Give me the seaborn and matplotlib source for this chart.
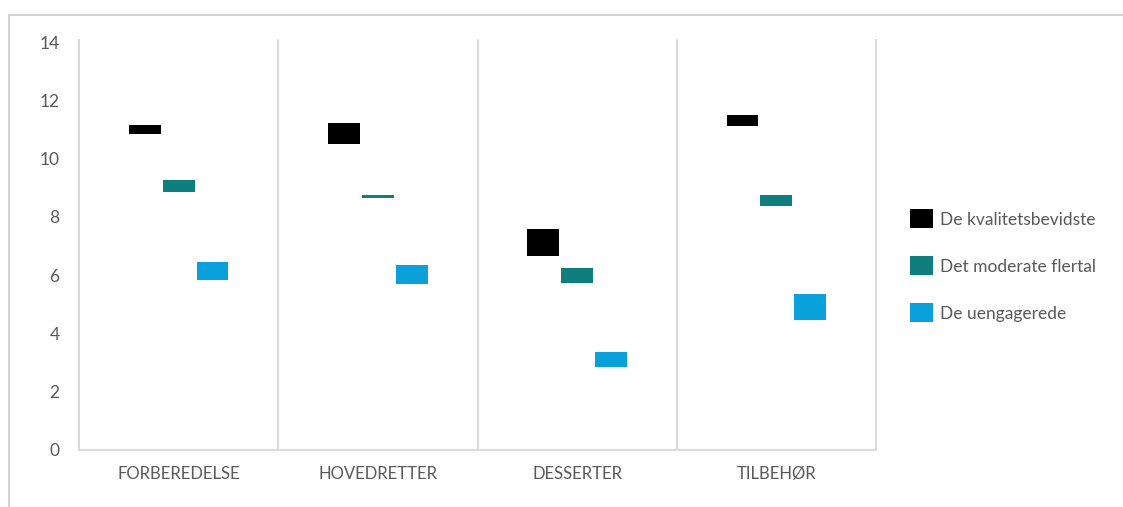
import matplotlib
matplotlib.use("Agg")
import matplotlib.pyplot as plt
from matplotlib.lines import Line2D
from matplotlib.patches import Patch
import pandas as pd
import seaborn as sns

# Categories and consumer segments
categories = ["FORBEREDELSE", "HOVEDRETTER", "DESSERTER", "TILBEHØR"]
segments = ["De kvalitetsbevidste", "Det moderate flertal", "De uengagerede"]

# Range (low, high) per segment across the categories
kval_low = [10.85, 10.50, 6.65, 11.13]
kval_high = [11.15, 11.22, 7.60, 11.52]
moderat_low = [8.87, 8.64, 5.74, 8.39]
moderat_high = [9.26, 8.75, 6.25, 8.74]
ueng_low = [5.84, 5.69, 2.84, 4.45]
ueng_high = [6.44, 6.35, 3.35, 5.34]

y_ticks = [0, 2, 4, 6, 8, 10, 12, 14]
colors = ["#000000", "#0e7f7c", "#0aa0da"]

lows = {segments[0]: kval_low, segments[1]: moderat_low, segments[2]: ueng_low}
highs = {segments[0]: kval_high, segments[1]: moderat_high, segments[2]: ueng_high}

rows = []
for seg in segments:
    for cat, lo, hi in zip(categories, lows[seg], highs[seg]):
        rows.append({"kategori": cat, "segment": seg, "lav": lo, "hoej": hi})
df = pd.DataFrame(rows)

sns.set_style("white")
plt.rcParams["font.family"] = ["Lato", "DejaVu Sans"]

fig = plt.figure(figsize=(11.23, 5.07), dpi=100)
ax = fig.add_axes([79 / 1123, 57.5 / 507, (876 - 79) / 1123, 407 / 507])

sns.barplot(data=df, x="kategori", y="hoej", hue="segment", order=categories,
            hue_order=segments, palette=colors, width=0.51, gap=0.06,
            saturation=1, errorbar=None, legend=False, ax=ax)

# Turn each bar into a floating box spanning low..high
for cont, seg in zip(ax.containers, segments):
    for bar, lo, hi in zip(cont, lows[seg], highs[seg]):
        bar.set_y(lo)
        bar.set_height(hi - lo)
        bar.set_linewidth(0)

ax.set_xlim(-0.5, len(categories) - 0.5)
ax.set_ylim(0, 14)
ax.set_yticks(y_ticks)
ax.set_xlabel("")
ax.set_ylabel("")

grid_col = "#d9d9d9"
for b in range(1, len(categories)):
    ax.axvline(b - 0.5, ymin=0, ymax=1.007, color=grid_col, lw=1.4, clip_on=False)
for side in ["left", "right", "bottom"]:
    ax.spines[side].set_color(grid_col)
    ax.spines[side].set_linewidth(1.4)
    ax.spines[side].set_visible(True)
ax.spines["top"].set_visible(False)
ax.spines["left"].set_bounds(0, 14.1)
ax.spines["right"].set_bounds(0, 14.1)

ax.tick_params(axis="y", length=0, pad=14, labelsize=12.5, labelcolor="#595959")
ax.tick_params(axis="x", length=0, pad=12, labelsize=12, labelcolor="#595959")

handles = [Patch(facecolor=c, edgecolor="none") for c in colors]
fig.legend(handles, segments, loc="center left", bbox_to_anchor=(910 / 1123, 0.476),
           frameon=False, fontsize=12.5, labelcolor="#595959",
           handlelength=1.3, handleheight=1.25, handletextpad=0.4,
           labelspacing=1.65, borderaxespad=0, borderpad=0)

# Outer frame along top and left edges
fig.add_artist(Line2D([8.5 / 1123, 1], [1 - 14.5 / 507, 1 - 14.5 / 507],
                      transform=fig.transFigure, color="#d0d0d0", lw=1.3))
fig.add_artist(Line2D([8.5 / 1123, 8.5 / 1123], [0, 1 - 14.5 / 507],
                      transform=fig.transFigure, color="#d0d0d0", lw=1.3))

fig.savefig("out.png", dpi=100)
